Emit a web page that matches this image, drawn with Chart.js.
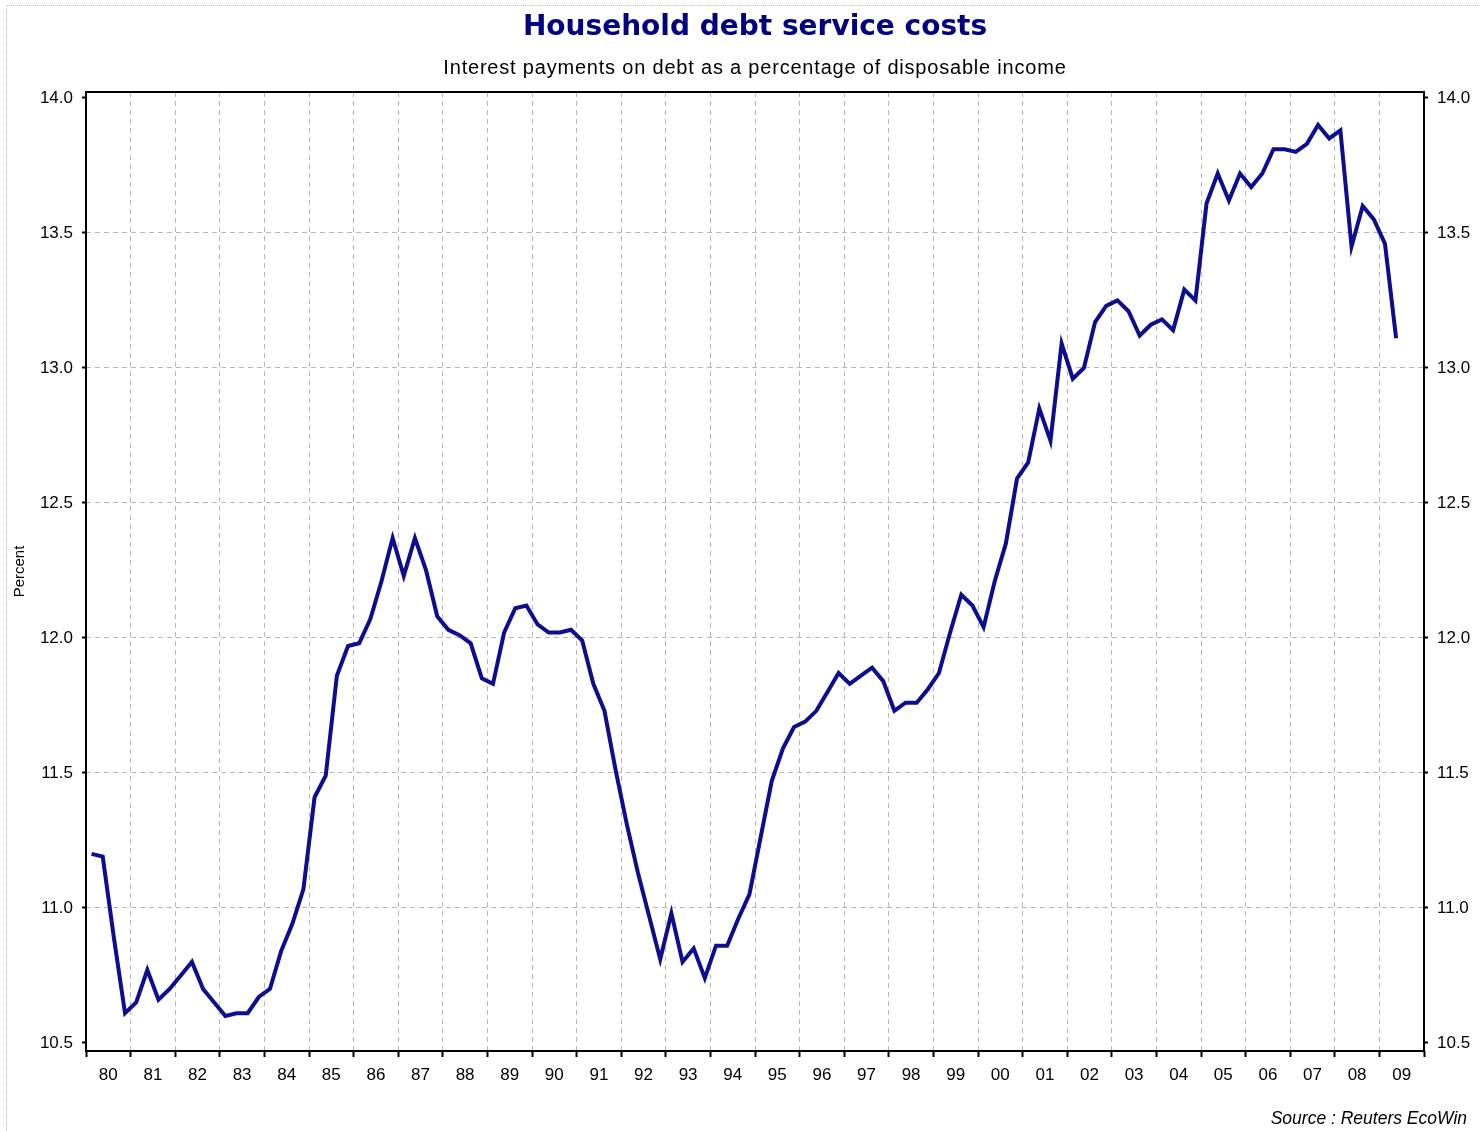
<!DOCTYPE html>
<html>
<head>
<meta charset="utf-8">
<script src="https://cdn.jsdelivr.net/npm/chart.js@4/dist/chart.umd.min.js"></script>
<style>
  html, body { margin: 0; padding: 0; background: #fff; }
  canvas { display: block; }
</style>
</head>
<body>
<canvas id="chart" width="1480" height="1131"></canvas>
<script>
// Household debt service ratio, quarterly, 1980 Q1 .. 2009 Q2
const firstYear = 1980;
const debtService = [
  11.20, 11.19, 10.89, 10.61,   // 80
  10.65, 10.77, 10.66, 10.70,   // 81
  10.75, 10.80, 10.70, 10.65,   // 82
  10.60, 10.61, 10.61, 10.67,   // 83
  10.70, 10.84, 10.94, 11.07,   // 84
  11.41, 11.49, 11.86, 11.97,   // 85
  11.98, 12.07, 12.21, 12.37,   // 86
  12.23, 12.37, 12.25, 12.08,   // 87
  12.03, 12.01, 11.98, 11.85,   // 88
  11.83, 12.02, 12.11, 12.12,   // 89
  12.05, 12.02, 12.02, 12.03,   // 90
  11.99, 11.83, 11.73, 11.51,   // 91
  11.31, 11.13, 10.97, 10.81,   // 92
  10.98, 10.80, 10.85, 10.74,   // 93
  10.86, 10.86, 10.96, 11.05,   // 94
  11.26, 11.47, 11.59, 11.67,   // 95
  11.69, 11.73, 11.80, 11.87,   // 96
  11.83, 11.86, 11.89, 11.84,   // 97
  11.73, 11.76, 11.76, 11.81,   // 98
  11.87, 12.02, 12.16, 12.12,   // 99
  12.04, 12.21, 12.35, 12.59,   // 00
  12.65, 12.85, 12.73, 13.09,   // 01
  12.96, 13.00, 13.17, 13.23,   // 02
  13.25, 13.21, 13.12, 13.16,   // 03
  13.18, 13.14, 13.29, 13.25,   // 04
  13.61, 13.72, 13.62, 13.72,   // 05
  13.67, 13.72, 13.81, 13.81,   // 06
  13.80, 13.83, 13.90, 13.85,   // 07
  13.88, 13.45, 13.60, 13.55,   // 08
  13.46, 13.11                  // 09
];
const yearLabels = ['80','81','82','83','84','85','86','87','88','89',
                    '90','91','92','93','94','95','96','97','98','99',
                    '00','01','02','03','04','05','06','07','08','09'];
const yTicks = [10.5, 11.0, 11.5, 12.0, 12.5, 13.0, 13.5, 14.0];

const titleText = 'Household debt service costs';
const subtitleText = 'Interest payments on debt as a percentage of disposable income';
const sourceText = 'Source : Reuters EcoWin';

// each quarter sits in the middle of its quarter
const points = debtService.map((v, i) => ({ x: firstYear + (i + 0.5) / 4, y: v }));

const GRID = '#b8b8b8';
const tickFont = { family: 'Liberation Sans', size: 17 };
const lastYear = firstYear + yearLabels.length;

const decor = {
  id: 'decor',
  beforeDatasetsDraw(chart) {
    const { ctx, chartArea: a } = chart;
    ctx.save();
    ctx.strokeStyle = '#000';
    ctx.lineWidth = 2;
    ctx.strokeRect(a.left, a.top, a.right - a.left, a.bottom - a.top);
    ctx.restore();
  },
  afterDraw(chart) {
    const { ctx, chartArea: a } = chart;
    const cx = (a.left + a.right) / 2;
    ctx.save();
    // faint dotted outer frame
    ctx.strokeStyle = '#c4c4c4';
    ctx.lineWidth = 1;
    ctx.setLineDash([1, 1]);
    ctx.beginPath();
    ctx.moveTo(6.5, 1131); ctx.lineTo(6.5, 5.5); ctx.lineTo(1480, 5.5);
    ctx.stroke();
    ctx.setLineDash([]);

    ctx.textAlign = 'center';
    ctx.textBaseline = 'middle';
    ctx.fillStyle = '#000080';
    ctx.font = 'bold 28px "DejaVu Sans"';
    ctx.fillText(titleText, cx, 28);

    ctx.fillStyle = '#000';
    ctx.font = '20px "Liberation Sans"';
    ctx.letterSpacing = '0.8px';
    ctx.fillText(subtitleText, cx, 68);
    ctx.letterSpacing = '0px';

    ctx.save();
    ctx.translate(20, (a.top + a.bottom) / 2);
    ctx.rotate(-Math.PI / 2);
    ctx.font = '15px "Liberation Sans"';
    ctx.fillText('Percent', 0, 0);
    ctx.restore();

    ctx.textAlign = 'right';
    ctx.font = 'italic 17.5px "Liberation Sans"';
    ctx.fillText(sourceText, 1467, 1119);
    ctx.restore();
  }
};

new Chart(document.getElementById('chart'), {
  type: 'line',
  data: {
    datasets: [{
      data: points,
      borderColor: '#0d0d8f',
      borderWidth: 4,
      pointRadius: 0,
      tension: 0,
      fill: false
    }]
  },
  options: {
    responsive: false,
    animation: false,
    layout: { padding: { top: 92, left: 0, right: 0, bottom: 0 } },
    plugins: { legend: { display: false }, tooltip: { enabled: false } },
    scales: {
      x: {
        type: 'linear',
        min: firstYear,
        max: lastYear,
        afterBuildTicks: s => {
          const t = [];
          for (let y = firstYear; y <= lastYear; y++) {
            t.push({ value: y });
            if (y < lastYear) t.push({ value: y + 0.5 });
          }
          s.ticks = t;
        },
        afterFit: s => { s.height = 80; s.paddingLeft = 0; s.paddingRight = 0; },
        ticks: {
          autoSkip: false, maxRotation: 0, padding: 8, color: '#000', font: tickFont,
          callback: v => Number.isInteger(v) ? '' : yearLabels[Math.floor(v) - firstYear]
        },
        grid: {
          color: c => (c.tick && Number.isInteger(c.tick.value) && c.tick.value > firstYear && c.tick.value < lastYear) ? GRID : 'transparent',
          tickColor: c => (c.tick && Number.isInteger(c.tick.value)) ? '#000' : 'transparent',
          tickLength: 6,
          tickWidth: 2,
          tickBorderDash: []
        },
        border: { display: false, dash: [5, 4] }
      },
      y: {
        type: 'linear',
        position: 'left',
        min: 10.47,
        max: 14.022,
        afterBuildTicks: s => { s.ticks = yTicks.map(v => ({ value: v })); },
        afterFit: s => { s.width = 86; s.paddingTop = 0; s.paddingBottom = 0; },
        ticks: { padding: 9, color: '#000', font: tickFont, callback: v => v.toFixed(1) },
        grid: {
          color: c => (c.tick && c.tick.value > 10.5 && c.tick.value < 14) ? GRID : 'transparent',
          tickColor: '#000',
          tickLength: 4,
          tickWidth: 2,
          tickBorderDash: []
        },
        border: { display: false, dash: [5, 4] }
      },
      y2: {
        type: 'linear',
        position: 'right',
        min: 10.47,
        max: 14.022,
        afterBuildTicks: s => { s.ticks = yTicks.map(v => ({ value: v })); },
        afterFit: s => { s.width = 56; s.paddingTop = 0; s.paddingBottom = 0; },
        ticks: { padding: 9, color: '#000', font: tickFont, callback: v => v.toFixed(1) },
        grid: { drawOnChartArea: false, tickColor: '#000', tickLength: 4, tickWidth: 2 },
        border: { display: false }
      }
    }
  },
  plugins: [decor]
});
</script>
</body>
</html>
